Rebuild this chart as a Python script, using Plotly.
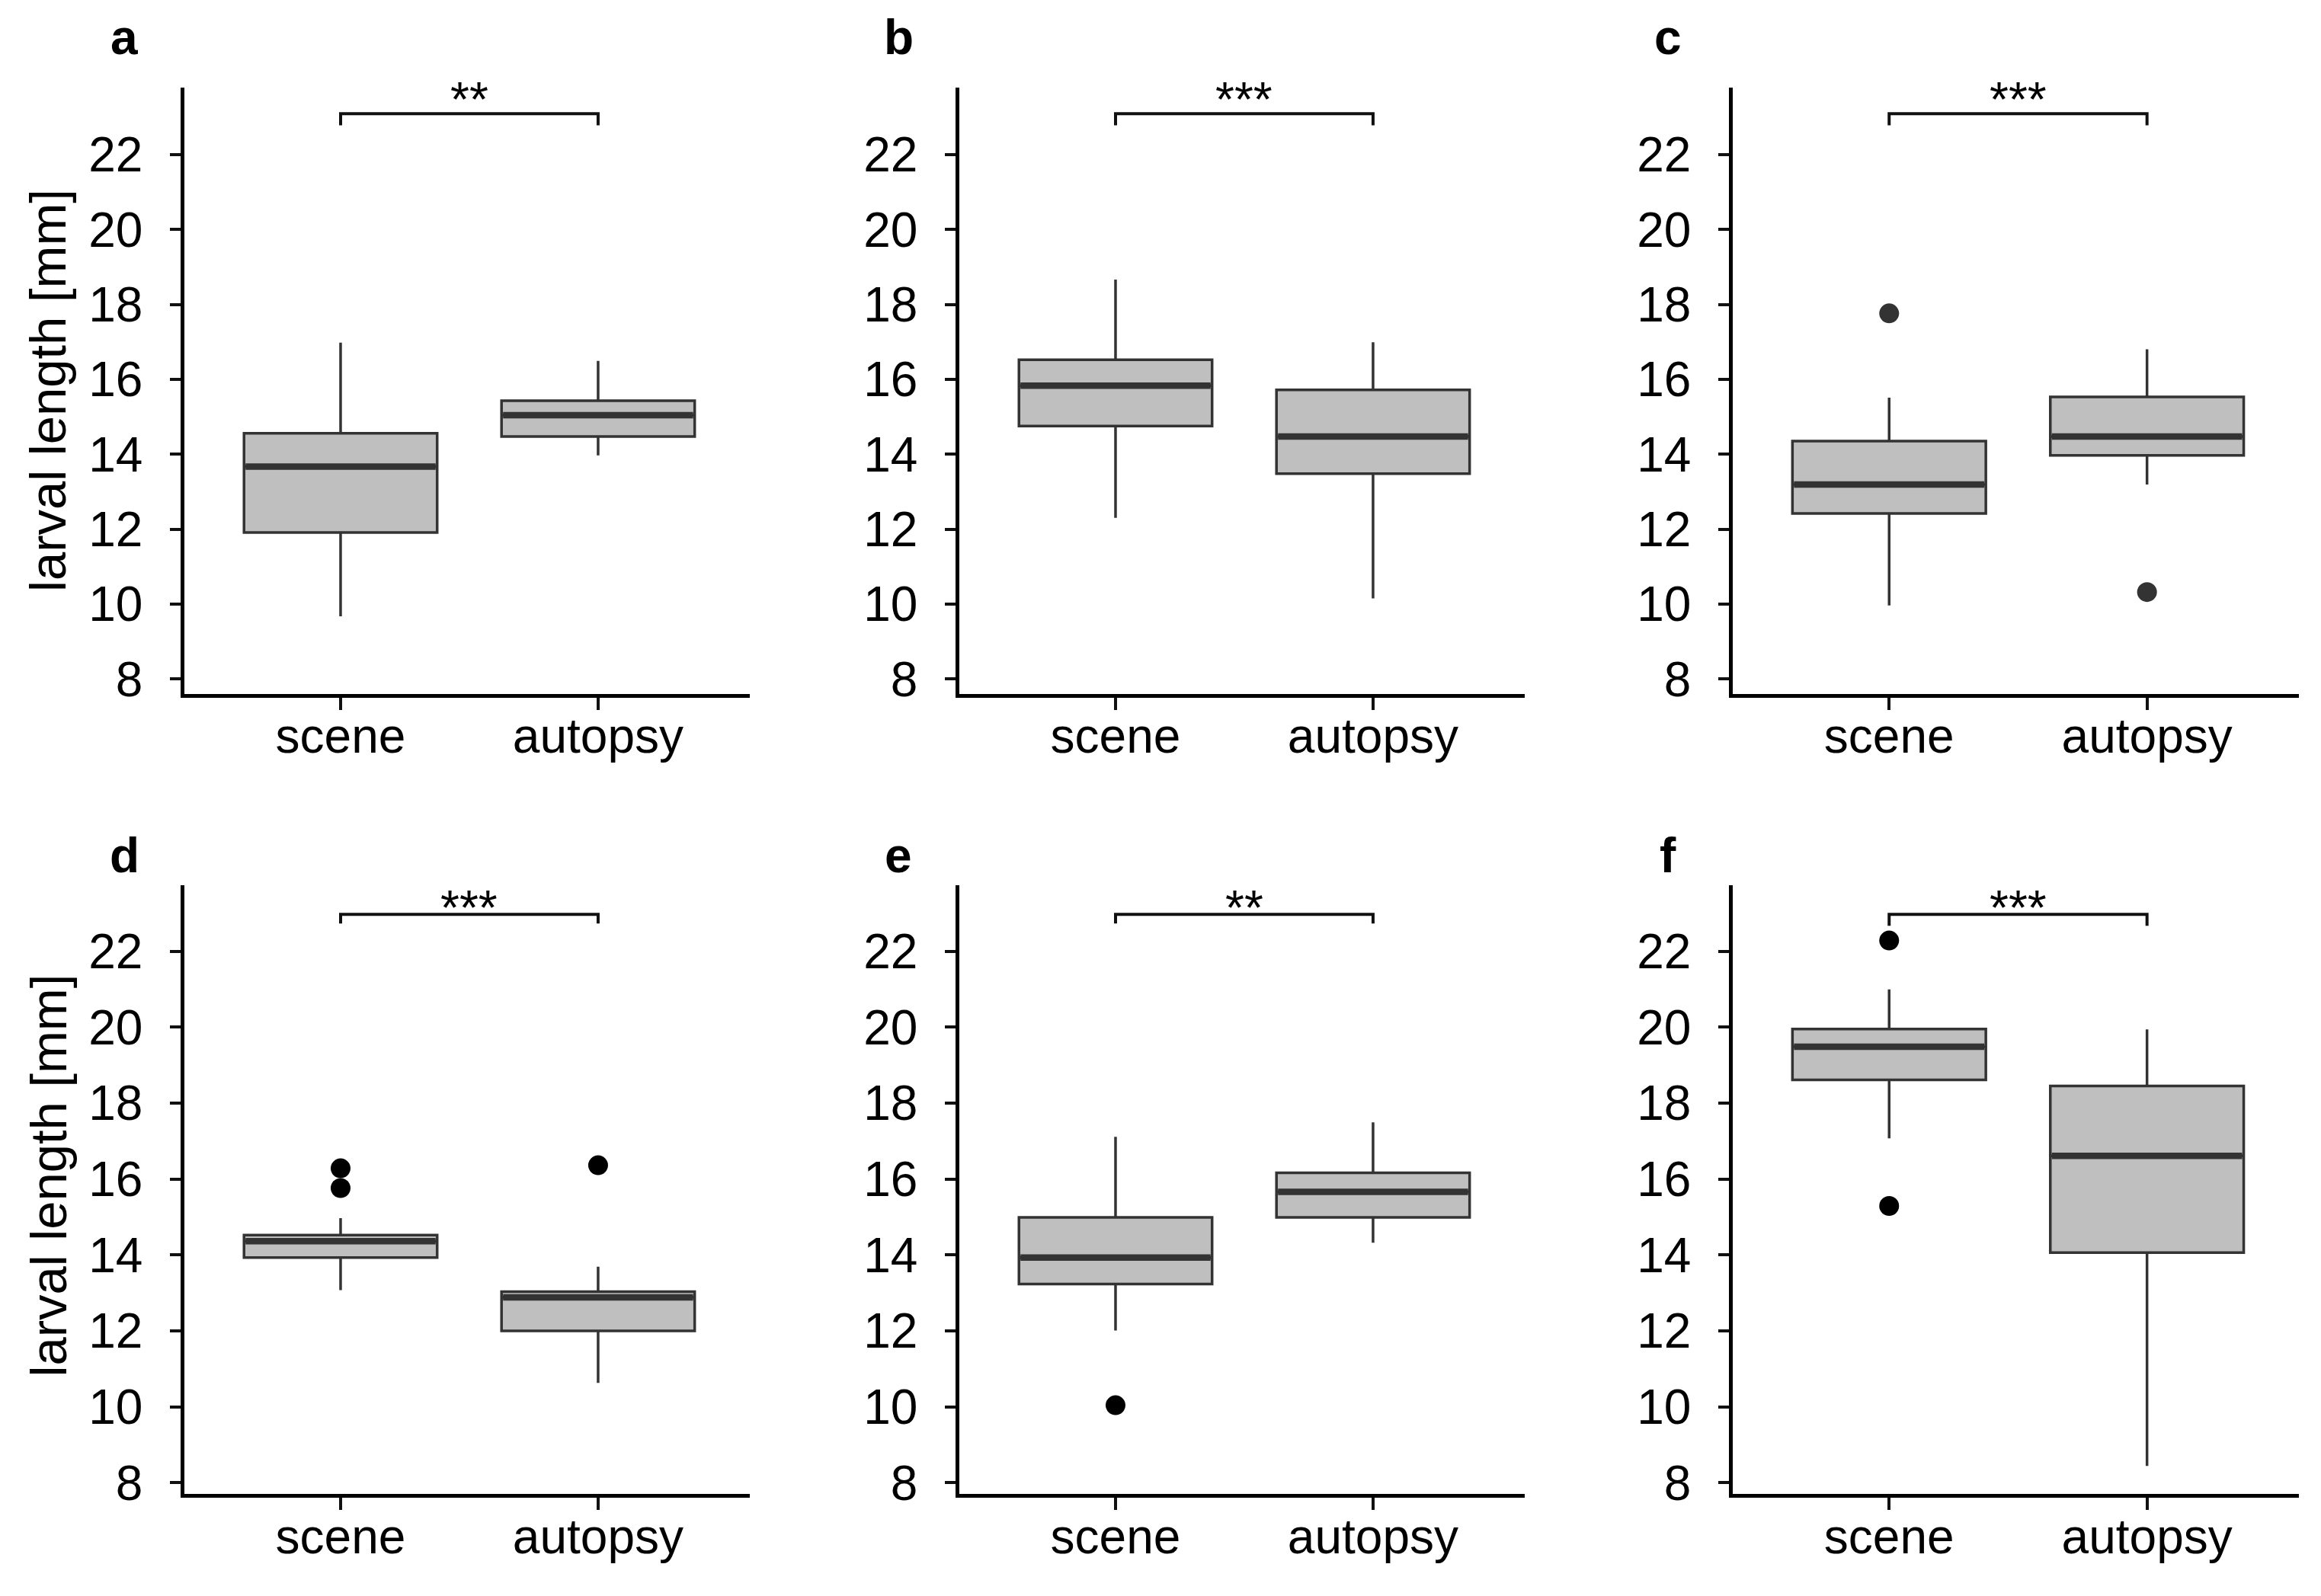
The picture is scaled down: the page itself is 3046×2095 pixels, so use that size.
import plotly.graph_objects as go

# ---------------- data ----------------
panels = ["a", "b", "c", "d", "e", "f"]
categories = ["scene", "autopsy"]
cat_pos = [1, 2]
y_ticks = [8, 10, 12, 14, 16, 18, 20, 22]

scene_lower = [9.67, 12.30, 9.96, 13.07, 12.01, 17.07]
scene_q1 = [11.91, 14.75, 12.42, 13.93, 13.23, 18.61]
scene_median = [13.67, 15.83, 13.19, 14.36, 13.93, 19.48]
scene_q3 = [14.56, 16.52, 14.35, 14.52, 14.99, 19.95]
scene_upper = [16.98, 18.66, 15.51, 14.97, 17.11, 20.99]
scene_outliers = [[], [], [17.76], [16.28, 15.76], [10.04], [22.28, 15.29]]

autopsy_lower = [13.97, 10.15, 13.19, 10.63, 14.32, 8.44]
autopsy_q1 = [14.47, 13.48, 13.97, 12.00, 14.99, 14.06]
autopsy_median = [15.04, 14.47, 14.47, 12.88, 15.66, 16.61]
autopsy_q3 = [15.43, 15.72, 15.53, 13.03, 16.16, 18.45]
autopsy_upper = [16.49, 16.99, 16.80, 13.69, 17.49, 19.94]
autopsy_outliers = [[], [], [10.32], [16.36], [], []]

significance = ["**", "***", "***", "***", "**", "***"]
bracket_y = [23.09, 23.09, 23.09, 22.97, 22.97, 22.97]
bracket_drop = [0.31, 0.31, 0.31, 0.24, 0.24, 0.30]
star_y = [23.69, 23.69, 23.69, 23.35, 23.35, 23.35]

# ---------------- style / layout ----------------
W, H = 3046, 2095
FONT = "Liberation Sans, Arial, sans-serif"
FS = 64
BOX_FILL = "#bfbfbf"
BOX_LINE = "#333333"
BOX_W = 0.75
outlier_colors = ["#000000", "#000000", "#333333", "#000000", "#000000", "#000000"]

col_px = [(234, 976), (1251, 1993), (2266, 3009)]
row_px = [(108, 912), (1166, 1973)]
col_dom = [(a / W, b / W) for a, b in col_px]
row_dom = [(1 - b / H, 1 - a / H) for a, b in row_px]
row_range = [[7.60, 23.79], [7.70, 23.73]]
x_range = [0.3935, 2.589]
label_x = [155 / W, 1171 / W, 2181 / W]
label_y = [1 - 41 / H, 1 - 1126 / H]
title_x = 55 / W
title_y = [1 - 510 / H, 1 - 1551 / H]

fig = go.Figure()
layout = dict(
    width=W, height=H,
    margin=dict(l=0, r=0, t=0, b=0),
    paper_bgcolor="white", plot_bgcolor="white",
    showlegend=False,
    font=dict(family=FONT, size=FS, color="black"),
)
annotations = []
shapes = []

stats = {
    "scene": (scene_lower, scene_q1, scene_median, scene_q3, scene_upper, scene_outliers),
    "autopsy": (autopsy_lower, autopsy_q1, autopsy_median, autopsy_q3, autopsy_upper, autopsy_outliers),
}

for i, p in enumerate(panels):
    r, c = divmod(i, 3)
    n = i + 1
    xa = "x" if n == 1 else f"x{n}"
    ya = "y" if n == 1 else f"y{n}"
    xkey = "xaxis" if n == 1 else f"xaxis{n}"
    ykey = "yaxis" if n == 1 else f"yaxis{n}"

    for k, cat in enumerate(categories):
        lo, q1, med, q3, up, outs = stats[cat]
        pos = cat_pos[k]
        fig.add_trace(go.Box(
            x=[pos], q1=[q1[i]], median=[med[i]], q3=[q3[i]],
            lowerfence=[lo[i]], upperfence=[up[i]],
            width=BOX_W, whiskerwidth=0,
            fillcolor=BOX_FILL, line=dict(color=BOX_LINE, width=3.5),
            boxpoints=False, xaxis=xa, yaxis=ya, hoverinfo="skip",
        ))
        # thick median bar
        fig.add_trace(go.Scatter(
            x=[pos - BOX_W / 2 + 0.006, pos + BOX_W / 2 - 0.006], y=[med[i], med[i]],
            mode="lines", line=dict(color=BOX_LINE, width=8.5),
            xaxis=xa, yaxis=ya, hoverinfo="skip",
        ))
        if outs[i]:
            fig.add_trace(go.Scatter(
                x=[pos] * len(outs[i]), y=outs[i], mode="markers",
                marker=dict(color=outlier_colors[i], size=26),
                xaxis=xa, yaxis=ya, hoverinfo="skip",
            ))

    # significance bracket
    by = bracket_y[i]
    bd = bracket_drop[i]
    shapes.append(dict(
        type="path", xref=xa, yref=ya,
        path=f"M {cat_pos[0]},{by - bd} L {cat_pos[0]},{by} L {cat_pos[1]},{by} L {cat_pos[1]},{by - bd}",
        line=dict(color="#111111", width=4),
    ))
    annotations.append(dict(
        x=(cat_pos[0] + cat_pos[1]) / 2, y=star_y[i], xref=xa, yref=ya,
        text=significance[i], showarrow=False, yanchor="middle", yshift=-11,
        font=dict(family=FONT, size=FS, color="black"),
    ))

    # panel letter
    annotations.append(dict(
        x=label_x[c], y=label_y[r], xref="paper", yref="paper",
        text=f"<b>{p}</b>", showarrow=False, xanchor="center", yanchor="middle",
        font=dict(family=FONT, size=FS, color="black"),
    ))

    layout[xkey] = dict(
        domain=list(col_dom[c]), anchor=ya, range=x_range,
        tickmode="array", tickvals=cat_pos, ticktext=categories,
        ticks="outside", ticklen=16, tickwidth=3.5, tickcolor="#111111",
        showline=True, linecolor="black", linewidth=4.5,
        showgrid=False, zeroline=False, ticklabelstandoff=-20,
        tickfont=dict(family=FONT, size=FS, color="black"),
    )
    layout[ykey] = dict(
        domain=list(row_dom[r]), anchor=xa, range=row_range[r],
        tickmode="array", tickvals=y_ticks,
        ticks="outside", ticklen=14, tickwidth=3.5, tickcolor="#111111",
        showline=True, linecolor="black", linewidth=4.5,
        showgrid=False, zeroline=False, ticklabelstandoff=23,
        tickfont=dict(family=FONT, size=FS, color="black"),
    )

# y-axis titles (left column only)
for r in range(2):
    annotations.append(dict(
        x=title_x, y=title_y[r], xref="paper", yref="paper",
        text="larval length [mm]", textangle=-90, showarrow=False,
        xanchor="center", yanchor="middle",
        font=dict(family=FONT, size=67, color="black"),
    ))

layout["annotations"] = annotations
layout["shapes"] = shapes
fig.update_layout(**layout)
fig.write_html("out.html")
